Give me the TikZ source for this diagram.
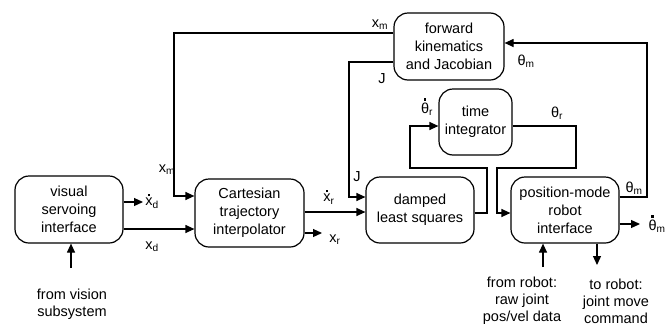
\documentclass[tikz,border=0pt]{standalone}
\usepackage{fontspec}
\setmainfont{Liberation Sans}
\usetikzlibrary{arrows.meta}
\newcommand\dotover[1]{\leavevmode\vbox{\offinterlineskip\halign{\hfil##\hfil\cr\rule{2.4pt}{2.4pt}\cr\noalign{\kern2pt}#1\cr}}}
\begin{document}
\begin{tikzpicture}[x=1pt,y=-1pt,
  font=\fontsize{14.5}{18}\selectfont,
  box/.style={draw, line width=1.2pt, rounded corners=14pt, align=center, inner sep=0pt},
  conn/.style={line width=1.2pt},
  arr/.style={conn, -{Triangle[length=9pt,width=8pt]}},
  lbl/.style={inner sep=0pt},
  note/.style={inner sep=0pt, align=center, font=\fontsize{14.5}{17}\selectfont}]
\useasboundingbox (0,0) rectangle (668,327);

% boxes
\node[box, minimum width=108pt, minimum height=67pt] (vsi) at (69,209.5) {visual\\servoing\\interface};
\node[box, minimum width=109pt, minimum height=68pt] (cti) at (249.5,213) {Cartesian\\trajectory\\interpolator};
\node[box, minimum width=108pt, minimum height=66pt] (dls) at (420,210) {damped\\least squares};
\node[box, minimum width=108pt, minimum height=66pt] (pmr) at (565,210) {position-mode\\robot\\interface};
\node[box, minimum width=73pt, minimum height=66pt] (ti) at (475.5,122) {time\\integrator};
\node[box, minimum width=110pt, minimum height=67pt] (fk) at (449,46.5) {forward\\kinematics\\and Jacobian};

% coordinates
\coordinate (xm1) at (174,33);
\coordinate (xm2) at (174,196);
\coordinate (j1) at (349,62);
\coordinate (j2) at (349,197);
\coordinate (xdd) at (143,202);
\coordinate (xdy) at (0,229);
\coordinate (xry) at (0,212);
\coordinate (xr) at (322,233);
\coordinate (a1) at (487,213);
\coordinate (a2) at (487,168);
\coordinate (a3) at (410,168);
\coordinate (a4) at (410,126);
\coordinate (b1) at (576,126);
\coordinate (b2) at (576,168);
\coordinate (b3) at (497,168);
\coordinate (b4) at (497,213);
\coordinate (c1) at (647,197);
\coordinate (c2) at (647,43);
\coordinate (tm) at (640,224);
\coordinate (fr) at (543,267);
\coordinate (tr) at (597,265);
\coordinate (fv) at (71,268);

% connectors
\draw[arr] (fk.west |- xm1) -- (xm1) -- (xm2) -- (cti.west |- xm2);
\draw[arr] (fk.west |- j1) -- (j1) -- (j2) -- (dls.west |- j2);
\draw[arr] (vsi.east |- xdd) -- (xdd);
\draw[arr] (vsi.east |- xdy) -- (cti.west |- xdy);
\draw[arr] (cti.east |- xry) -- (dls.west |- xry);
\draw[arr] (cti.east |- xr) -- (xr);
\draw[arr] (dls.east |- a1) -- (a1) -- (a2) -- (a3) -- (a4) -- (ti.west |- a4);
\draw[arr] (ti.east |- b1) -- (b1) -- (b2) -- (b3) -- (b4) -- (pmr.west |- b4);
\draw[arr] (pmr.east |- c1) -- (c1) -- (c2) -- (fk.east |- c2);
\draw[arr] (pmr.east |- tm) -- (tm);
\draw[arr] (fr) -- (pmr.south -| fr);
\draw[arr] (pmr.south -| tr) -- (tr);
\draw[arr] (fv) -- (vsi.south -| fv);

% labels
\node[lbl] (Lxm1) at (380,25) {x\textsubscript{m}};
\node[lbl] (Lxm2) at (167,170) {x\textsubscript{m}};
\node[lbl] (LJ1) at (382,79) {J};
\node[lbl] (LJ2) at (357,177) {J};
\node[lbl] (Lxdd) at (152,201) {\dotover{x}\textsubscript{d}};
\node[lbl] (Lxd) at (152,247) {x\textsubscript{d}};
\node[lbl] (Lxrd) at (329,197) {\dotover{x}\textsubscript{r}};
\node[lbl] (Lxr) at (335,240) {x\textsubscript{r}};
\node[lbl] (Ltrd) at (427,107) {\dotover{θ}\textsubscript{r}};
\node[lbl] (Ltr) at (557,113) {θ\textsubscript{r}};
\node[lbl] (Ltm1) at (634,188) {θ\textsubscript{m}};
\node[lbl] (Ltm2) at (526,61) {θ\textsubscript{m}};
\node[lbl] (Ltmd) at (657,224) {\dotover{θ}\textsubscript{m}};

\node[note] (nfv) at (72,304) {from vision\\subsystem};
\node[note] (nfr) at (522,301) {from robot:\\raw joint\\pos/vel data};
\node[note] (ntr) at (616,301) {to robot:\\joint move\\command};
\end{tikzpicture}
\end{document}
